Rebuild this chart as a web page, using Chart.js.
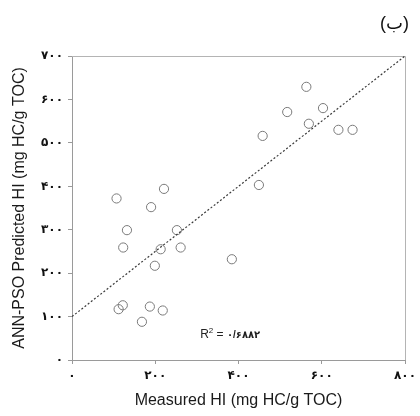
<!DOCTYPE html>
<html>
<head>
<meta charset="utf-8">
<script src="https://cdn.jsdelivr.net/npm/chart.js@4/dist/chart.umd.min.js"></script>
<style>
  html, body { margin: 0; padding: 0; background: #fff; }
  #wrap { width: 420px; height: 416px; }
</style>
</head>
<body>
<div id="wrap"><canvas id="c" width="420" height="416"></canvas></div>
<script>
// Measured vs. ANN-PSO predicted hydrogen index (mg HC/g TOC)
const measuredHI = [563, 517, 603, 569, 640, 674, 458, 449,
                    107, 221, 190, 132, 252, 123, 213, 261, 384, 199,
                    112, 122, 187, 218, 168];
const predictedHI = [629, 571, 580, 544, 530, 530, 516, 403,
                     372, 394, 352, 299, 299, 259, 255, 259, 232, 217,
                     117, 126, 123, 114, 88];

// Fitted trend line end points (x, y)
const trendX = [0, 800];
const trendY = [100, 700];

// Axis tick values and their labels (Persian digits)
const xTickValues = [0, 200, 400, 600, 800];
const xTickLabels = ['۰', '۲۰۰', '۴۰۰', '۶۰۰', '۸۰۰'];
const yTickValues = [0, 100, 200, 300, 400, 500, 600, 700];
const yTickLabels = ['۰', '۱۰۰', '۲۰۰', '۳۰۰', '۴۰۰', '۵۰۰', '۶۰۰', '۷۰۰'];

const panelTitle = '(ب)';
const xTitle = 'Measured HI (mg HC/g TOC)';
const yTitle = 'ANN-PSO Predicted HI (mg HC/g TOC)';
const r2Label = '۰/۶۸۸۲';
const r2Pos = { x: 380, y: 58 };

const FONT = "Arial, 'Liberation Sans', 'DejaVu Sans', sans-serif";

const scatterPoints = measuredHI.map((v, i) => ({ x: v, y: predictedHI[i] }));
const trendPoints = trendX.map((v, i) => ({ x: v, y: trendY[i] }));

// Box around the plotting area and the R² annotation
const framePlugin = {
  id: 'frame',
  beforeDatasetsDraw(chart) {
    const { ctx, chartArea: a } = chart;
    ctx.save();
    ctx.strokeStyle = '#b4b4b4';
    ctx.lineWidth = 1;
    ctx.beginPath();
    ctx.moveTo(a.left, a.top + 0.5);
    ctx.lineTo(a.right + 0.5, a.top + 0.5);
    ctx.lineTo(a.right + 0.5, a.bottom);
    ctx.stroke();
    ctx.restore();
  },
  afterDatasetsDraw(chart) {
    const { ctx, scales } = chart;
    const cx = scales.x.getPixelForValue(r2Pos.x);
    const cy = scales.y.getPixelForValue(r2Pos.y);
    ctx.save();
    ctx.fillStyle = '#222';
    ctx.textBaseline = 'middle';
    ctx.font = '12px ' + FONT;
    const rW = ctx.measureText('R').width;
    ctx.font = '8px ' + FONT;
    const sW = ctx.measureText('2').width;
    ctx.font = '12px ' + FONT;
    const restA = ' = ';
    const aW = ctx.measureText(restA).width;
    ctx.font = 'bold 10px ' + FONT;
    const nW = ctx.measureText(r2Label).width;
    const total = rW + sW + aW + nW;
    let x = cx - total / 2;
    ctx.textAlign = 'left';
    ctx.font = '12px ' + FONT;
    ctx.fillText('R', x, cy); x += rW;
    ctx.font = '8px ' + FONT;
    ctx.fillText('2', x, cy - 4); x += sW;
    ctx.font = '12px ' + FONT;
    ctx.fillText(restA, x, cy); x += aW;
    ctx.font = 'bold 10px ' + FONT;
    ctx.fillText(r2Label, x, cy);
    ctx.restore();
  }
};

new Chart(document.getElementById('c'), {
  type: 'scatter',
  data: {
    datasets: [
      {
        type: 'line',
        data: trendPoints,
        borderColor: '#3a3a3a',
        borderWidth: 1.2,
        borderDash: [2, 2],
        pointRadius: 0,
        fill: false,
        tension: 0
      },
      {
        data: scatterPoints,
        pointStyle: 'circle',
        pointRadius: 4.6,
        pointBorderWidth: 1,
        pointBorderColor: '#7a7a7a',
        pointBackgroundColor: 'rgba(255,255,255,0)'
      }
    ]
  },
  options: {
    responsive: false,
    animation: false,
    layout: { padding: { left: 0, right: 11, top: 0, bottom: 0 } },
    plugins: {
      legend: { display: false },
      tooltip: { enabled: false },
      title: {
        display: true,
        text: panelTitle,
        align: 'end',
        color: '#111',
        font: { family: FONT, size: 18, weight: 'normal' },
        padding: { top: 13.2, bottom: 21.2 }
      }
    },
    scales: {
      x: {
        type: 'linear',
        min: 0,
        max: 800,
        afterFit(scale) { scale.height = 56; },
        afterBuildTicks(scale) { scale.ticks = xTickValues.map(v => ({ value: v })); },
        ticks: {
          callback: (v) => xTickLabels[xTickValues.indexOf(v)],
          color: '#111',
          font: { family: FONT, size: 12, weight: 'bold' },
          padding: 4,
          maxRotation: 0
        },
        grid: { drawOnChartArea: false, tickLength: 4, color: '#9a9a9a' },
        border: { display: true, color: '#9a9a9a', width: 1 },
        title: {
          display: true,
          text: xTitle,
          color: '#1a1a1a',
          font: { family: FONT, size: 16 },
          padding: { top: 0, bottom: 5.4 }
        }
      },
      y: {
        type: 'linear',
        min: 0,
        max: 700,
        afterFit(scale) { scale.width = 72; },
        afterBuildTicks(scale) { scale.ticks = yTickValues.map(v => ({ value: v })); },
        ticks: {
          callback: (v) => yTickLabels[yTickValues.indexOf(v)],
          color: '#111',
          font: { family: FONT, size: 12, weight: 'bold' },
          padding: 5
        },
        grid: { drawOnChartArea: false, tickLength: 4, color: '#9a9a9a' },
        border: { display: true, color: '#9a9a9a', width: 1 },
        title: {
          display: true,
          text: yTitle,
          color: '#1a1a1a',
          font: { family: FONT, size: 16 },
          padding: { top: 10.4, bottom: 0 }
        }
      }
    }
  },
  plugins: [framePlugin]
});
</script>
</body>
</html>
